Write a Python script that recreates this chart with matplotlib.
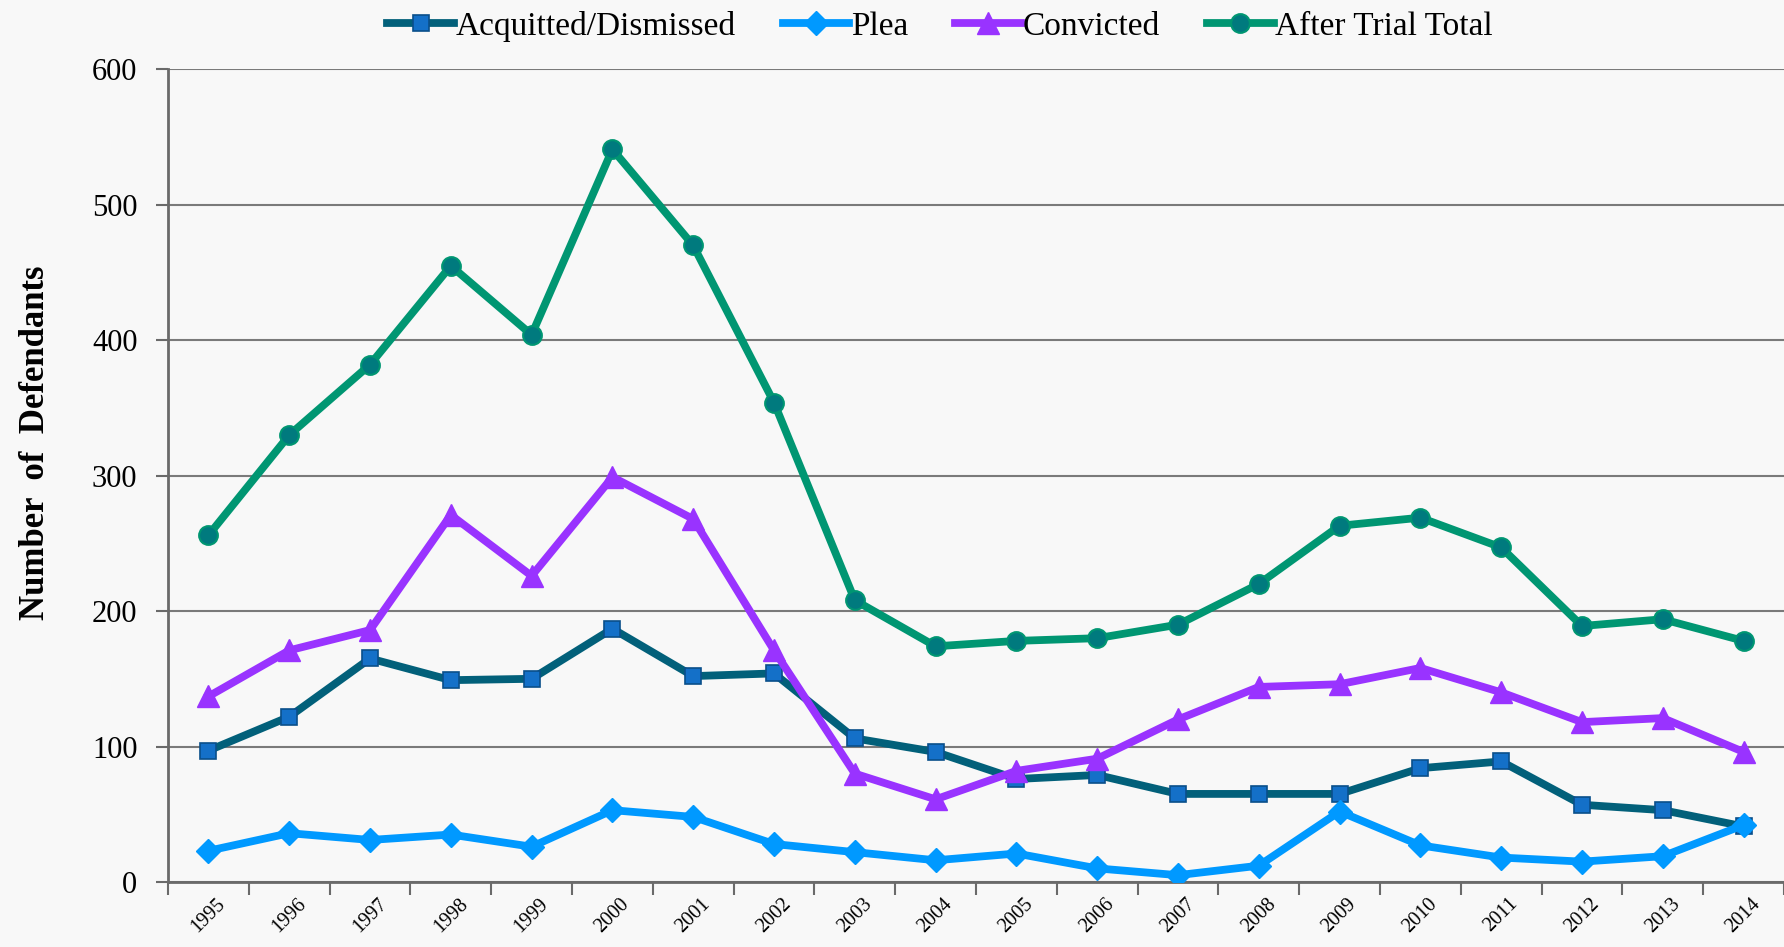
import matplotlib
matplotlib.use("Agg")
import matplotlib.pyplot as plt

years = [str(y) for y in range(1995, 2015)]
acquitted = [97, 122, 165, 149, 150, 187, 152, 154, 106, 96, 76, 79, 65, 65, 65, 84, 89, 57, 53, 41]
plea = [23, 36, 31, 35, 26, 53, 48, 28, 22, 16, 21, 10, 5, 12, 52, 27, 18, 15, 19, 42]
convicted = [137, 171, 186, 271, 226, 299, 268, 171, 80, 61, 82, 91, 120, 144, 146, 158, 140, 118, 121, 96]
after_trial = [256, 330, 382, 455, 404, 541, 470, 354, 208, 174, 178, 180, 190, 220, 263, 269, 247, 189, 194, 178]
y_ticks = [0, 100, 200, 300, 400, 500, 600]

plt.rcParams['font.family'] = ['Liberation Serif', 'DejaVu Serif']

fig = plt.figure(figsize=(17.84, 9.47), dpi=100, facecolor='#f8f8f8')
ax = fig.add_axes([0.0942, 0.0687, 0.9058, 0.858])
ax.set_facecolor('#f8f8f8')

x = list(range(len(years)))
lw = 5.6
ax.plot(x, acquitted, color='#02607A', lw=lw, marker='s', ms=11,
        mfc='#1470C8', mec='#0A4F8A', mew=1.2, label='Acquitted/Dismissed', zorder=3)
ax.plot(x, plea, color='#0099FF', lw=lw, marker='D', ms=12,
        mfc='#0099FF', mec='#0099FF', label='Plea', zorder=3)
ax.plot(x, convicted, color='#9933FF', lw=lw, marker='^', ms=15.5,
        mfc='#9933FF', mec='#9933FF', label='Convicted', zorder=3)
ax.plot(x, after_trial, color='#009672', lw=lw, marker='o', ms=13.5,
        mfc='#007A7E', mec='#009672', mew=1.5, label='After Trial Total', zorder=3)

ax.set_xlim(-0.5, len(years) - 0.5)
ax.set_ylim(0, 600)
ax.set_yticks(y_ticks)
ax.set_yticklabels([str(v) for v in y_ticks], fontsize=22)
ax.yaxis.grid(True, color='#7a7a7a', lw=1.5, zorder=1)
ax.set_axisbelow(True)

# x ticks at category boundaries, labels at centers
ax.set_xticks([i - 0.5 for i in range(len(years) + 1)])
ax.set_xticklabels([''] * (len(years) + 1))
ax.set_xticks(x, minor=True)
ax.set_xticklabels(years, minor=True, rotation=45, fontsize=14.5, ha='center', va='top')
ax.tick_params(axis='x', which='major', length=9, width=1.5, color='#6a6a6a', direction='out')
ax.tick_params(axis='x', which='minor', length=0, pad=9)
ax.tick_params(axis='y', length=9, width=1.5, color='#6a6a6a', direction='out', pad=13)

for s in ['top', 'right']:
    ax.spines[s].set_visible(False)
for s in ['left', 'bottom']:
    ax.spines[s].set_color('#6a6a6a')
    ax.spines[s].set_linewidth(2)

ax.set_ylabel('Number  of  Defendants', fontsize=25, fontweight='bold')
ax.yaxis.set_label_coords(-0.072, 0.54)

fig.legend(loc='upper center', bbox_to_anchor=(0.527, 1.02), ncol=4, frameon=False,
           fontsize=24, handlelength=2.0, columnspacing=1.4, handletextpad=0.05)

fig.savefig('out.png', dpi=100, facecolor=fig.get_facecolor())
